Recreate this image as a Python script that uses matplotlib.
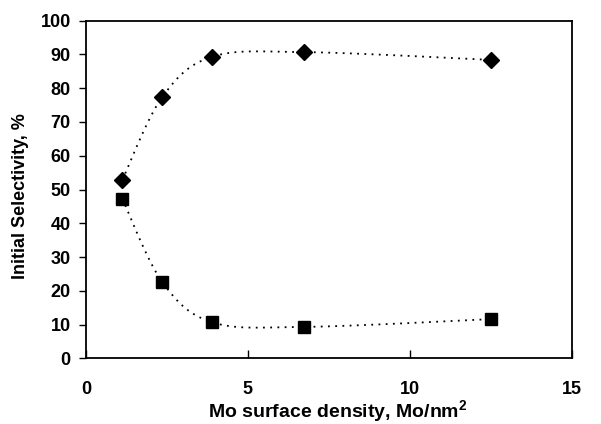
import matplotlib.pyplot as plt
import numpy as np

plt.rcParams['font.family'] = ['Liberation Sans', 'DejaVu Sans']
plt.rcParams['font.weight'] = 'bold'
plt.rcParams['mathtext.fontset'] = 'custom'
plt.rcParams['mathtext.bf'] = 'Liberation Sans:bold'

density = [1.12, 2.35, 3.89, 6.74, 12.51]
upper = [52.8, 77.3, 89.3, 90.7, 88.4]
lower = [47.3, 22.7, 10.7, 9.3, 11.6]


def smooth(xs, ys, sx=15.0, sy=100.0, n=30):
    # Excel-style smoothed line: cubic Bezier with Catmull-Rom tangents
    p = np.column_stack([np.asarray(xs) / sx, np.asarray(ys) / sy * 0.7])
    p = np.vstack([p[0], p, p[-1]])
    out = []
    t = np.linspace(0, 1, n)[:, None]
    for i in range(1, len(p) - 2):
        p0, p1, p2, p3 = p[i - 1], p[i], p[i + 1], p[i + 2]
        c1 = p1 + (p2 - p0) / 6
        c2 = p2 - (p3 - p1) / 6
        seg = ((1 - t) ** 3) * p1 + 3 * ((1 - t) ** 2) * t * c1 + 3 * (1 - t) * t ** 2 * c2 + t ** 3 * p2
        out.append(seg)
    out = np.vstack(out)
    return out[:, 0] * sx, out[:, 1] / 0.7 * sy


fig = plt.figure(figsize=(6.01, 4.24), dpi=100)
ax = fig.add_axes([86 / 601, 1 - 358.3 / 424, (571.7 - 86) / 601, (358.3 - 20.7) / 424])

for ys, m, ms in [(upper, 'D', 8.5), (lower, 's', 9)]:
    cx, cy = smooth(density, ys)
    ax.plot(cx, cy, color='black', lw=1.3, linestyle=(0, (1, 3)))
    ax.plot(density, ys, linestyle='none', marker=m, markersize=ms, color='black')

ax.set_xlim(0, 15)
ax.set_ylim(0, 100)
ax.set_xticks([0, 5, 10, 15])
ax.set_yticks(range(0, 101, 10))
ax.tick_params(axis='x', direction='in', length=6, width=1, labelsize=13, pad=16)
ax.tick_params(axis='y', direction='out', length=5, width=1, labelsize=13, pad=6)
for s in ax.spines.values():
    s.set_linewidth(1.3)

ax.set_xlabel('Mo surface density, Mo/nm$^\\mathbf{2}$', fontsize=14, fontweight='bold')
ax.xaxis.set_label_coords(0.519, -0.118)
ax.set_ylabel('Initial Selectivity, %', fontsize=13, fontweight='bold')
ax.yaxis.set_label_coords(-0.117, 0.48)

fig.savefig('out.png', dpi=100)
